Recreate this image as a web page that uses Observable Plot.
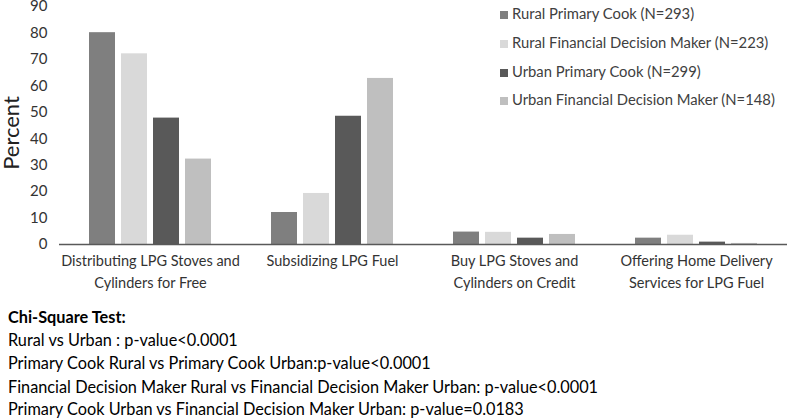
<!DOCTYPE html>
<html>
<head>
<meta charset="utf-8">
<script src="https://cdn.jsdelivr.net/npm/d3@7"></script>
<script src="https://cdn.jsdelivr.net/npm/@observablehq/plot@0.6"></script>
<style>
  html, body { margin: 0; padding: 0; background: #fff; overflow: hidden; }
  #wrap { position: relative; width: 787px; height: 418px; font-family: Lato, "Open Sans", sans-serif; }
  #legend { position: absolute; left: 500px; top: 0px; font-size: 14.8px; color: #404040; }
  #legend .row { position: absolute; left: 0; height: 20px; line-height: 20px; white-space: nowrap; }
  #legend .sw { display: inline-block; width: 8px; height: 8px; margin-right: 4px; vertical-align: 0px; }
  #ylabel { position: absolute; left: 11px; top: 133px; font-size: 22px; line-height: 22px; color: #222; transform: translate(-50%, -50%) rotate(-90deg); white-space: nowrap; }
  #notes { position: absolute; left: 8px; top: 305px; font-size: 16.3px; line-height: 23.2px; color: #000; white-space: nowrap; }
  #notes div:last-child { line-height: 19px; margin-top: 1px; }
  #notes b { font-weight: bold; }
</style>
</head>
<body>
<div id="wrap">
  <div id="chart"></div>
  <div id="legend"></div>
  <div id="ylabel"></div>
  <div id="notes"></div>
</div>
<script>
const categories = [
  "Distributing LPG Stoves and\nCylinders for Free",
  "Subsidizing LPG Fuel",
  "Buy LPG Stoves and\nCylinders on Credit",
  "Offering Home Delivery\nServices for LPG Fuel"
];
const seriesNames = [
  "Rural Primary Cook (N=293)",
  "Rural Financial Decision Maker (N=223)",
  "Urban Primary Cook (N=299)",
  "Urban Financial Decision Maker (N=148)"
];
const ruralPrimaryCook = [80.1, 12.1, 4.7, 2.4];
const ruralFinancialDM = [72.1, 19.3, 4.6, 3.5];
const urbanPrimaryCook = [47.8, 48.5, 2.4, 0.9];
const urbanFinancialDM = [32.3, 62.8, 3.8, 0.4];
const seriesColors = ["#7f7f7f", "#d9d9d9", "#595959", "#bfbfbf"];
const yTicks = [0, 10, 20, 30, 40, 50, 60, 70, 80, 90];
const yLabel = "Percent";
const noteTitle = "Chi-Square Test:";
const noteLines = [
  "Rural vs Urban : p-value<0.0001",
  "Primary Cook Rural vs Primary Cook Urban:p-value<0.0001",
  "Financial Decision Maker Rural vs Financial Decision Maker Urban: p-value<0.0001",
  "Primary Cook Urban vs Financial Decision Maker Urban: p-value=0.0183"
];

const seriesValues = [ruralPrimaryCook, ruralFinancialDM, urbanPrimaryCook, urbanFinancialDM];
const data = [];
categories.forEach((c, i) => {
  seriesNames.forEach((s, j) => data.push({category: c, series: s, value: seriesValues[j][i]}));
});

const chart = Plot.plot({
  width: 787,
  height: 298,
  marginLeft: 59,
  marginRight: 0,
  marginTop: 6,
  marginBottom: 54,
  style: {fontFamily: "Lato, 'Open Sans', sans-serif", color: "#333", background: "#fff", overflow: "visible"},
  fx: {domain: categories, padding: 0, label: null},
  x: {domain: seriesNames, paddingInner: 0.2, paddingOuter: 0.885, axis: null},
  y: {domain: [0, 90], label: null},
  color: {domain: seriesNames, range: seriesColors},
  marks: [
    Plot.barY(data, {fx: "category", x: "series", y: "value", fill: "series"}),
    Plot.axisY({ticks: yTicks, tickSize: 0, tickPadding: 12, fontSize: 15, label: null, fill: "#333"}),
    Plot.axisFx({anchor: "bottom", tickSize: 0, tickPadding: 6, fontSize: 14.5, lineHeight: 1.52, label: null, fill: "#333"}),
    Plot.ruleY([0], {stroke: "#595959", strokeWidth: 1.6})
  ]
});
document.getElementById("chart").appendChild(chart);

document.getElementById("ylabel").textContent = yLabel;

const legend = document.getElementById("legend");
const rowTops = [3, 32, 61, 89];
seriesNames.forEach((s, i) => {
  const row = document.createElement("div");
  row.className = "row";
  row.style.top = rowTops[i] + "px";
  const sw = document.createElement("span");
  sw.className = "sw";
  sw.style.background = seriesColors[i];
  row.appendChild(sw);
  row.appendChild(document.createTextNode(s));
  legend.appendChild(row);
});

const notes = document.getElementById("notes");
const t = document.createElement("div");
const b = document.createElement("b");
b.textContent = noteTitle;
t.appendChild(b);
notes.appendChild(t);
noteLines.forEach(l => {
  const d = document.createElement("div");
  d.textContent = l;
  notes.appendChild(d);
});
</script>
</body>
</html>
